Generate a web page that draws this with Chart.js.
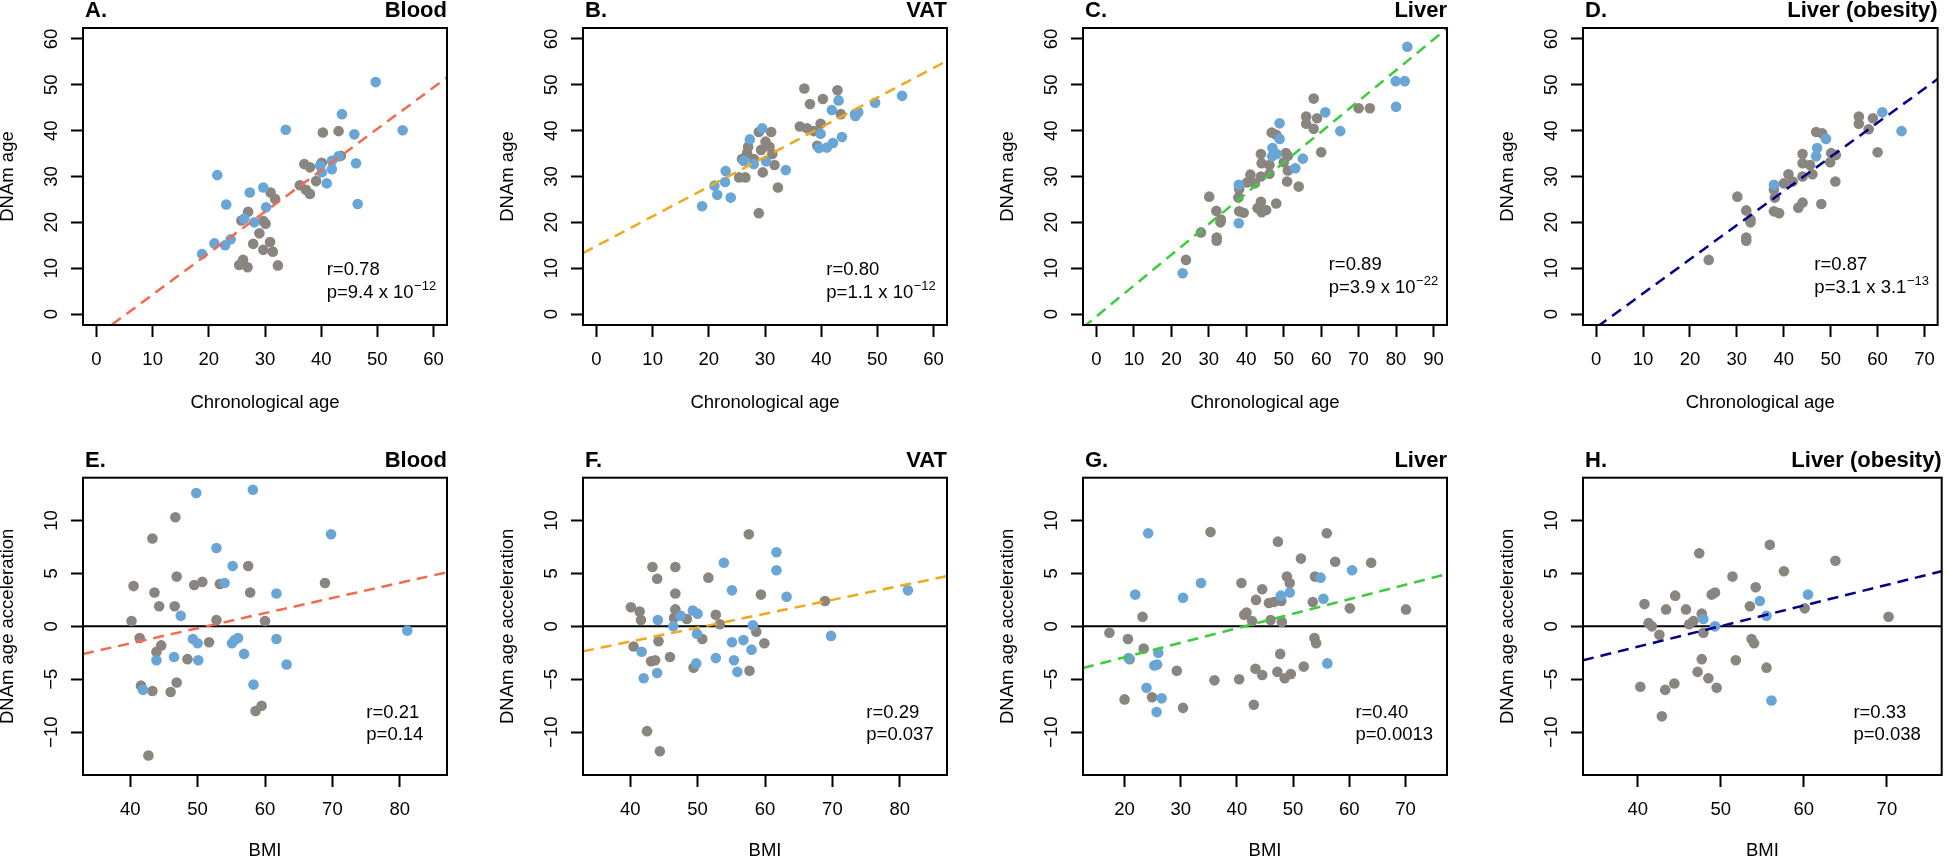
<!DOCTYPE html>
<html>
<head>
<meta charset="utf-8">
<script src="https://cdn.jsdelivr.net/npm/chart.js@4.4.1/dist/chart.umd.min.js"></script>
<style>
  body { margin: 0; background: #fff; width: 1947px; height: 859px; overflow: hidden; position: relative; }
  canvas { position: absolute; }
</style>
</head>
<body>
<script>
// ---- data: [x, y] pairs, blue and grey samples ----
const bloodAgeBlue = [[49.7,50.6],[43.7,43.6],[33.7,40.2],[54.5,40.1],[45.9,39.2],[46.2,32.9],[46.5,24.0],[21.5,30.3],[39.8,32.4],[40.1,30.9],[41.9,33.4],[41.9,31.6],[41.0,28.5],[43.1,34.4],[29.7,27.6],[27.3,26.5],[23.1,23.9],[30.2,23.3],[26.3,20.8],[28.1,20.0],[23.9,16.3],[21.0,15.4],[22.9,15.0],[18.8,13.1]];
const bloodAgeGray = [[40.3,39.6],[43.1,39.9],[43.5,34.5],[40.1,33.0],[37.0,32.7],[38.0,32.0],[39.1,29.0],[36.2,28.1],[37.3,27.1],[38.0,26.2],[31.0,26.5],[31.8,25.1],[27.0,22.3],[25.8,20.4],[29.7,20.3],[30.1,19.7],[29.0,17.6],[27.9,15.3],[30.9,15.7],[29.7,14.0],[31.4,13.6],[26.1,11.8],[25.4,10.7],[26.9,10.2],[32.3,10.6]];

const vatAgeBlue = [[54.4,47.6],[49.6,46.1],[43.1,46.6],[41.9,44.5],[46.0,43.6],[46.6,44.0],[46.1,43.2],[39.9,39.3],[43.7,38.6],[42.1,37.3],[39.6,36.2],[41.0,36.3],[29.5,40.5],[27.3,38.1],[26.2,33.4],[30.2,33.3],[28.0,32.7],[33.7,31.4],[23.0,31.2],[22.9,28.8],[21.0,28.0],[21.5,26.0],[23.9,25.4],[18.8,23.5]];
const vatAgeGray = [[37.0,49.2],[42.9,48.8],[38.0,45.8],[40.3,46.9],[43.5,43.6],[36.2,40.9],[37.5,40.5],[38.7,39.9],[39.9,41.5],[39.3,36.7],[28.9,39.7],[31.1,39.7],[30.1,37.6],[30.8,36.5],[29.3,35.8],[31.3,34.9],[27.0,36.5],[26.8,35.1],[25.9,33.8],[28.0,33.8],[31.7,32.5],[29.6,30.9],[25.4,29.8],[26.5,29.8],[32.3,27.6],[28.9,22.0]];

const liverAgeBlue = [[83.0,58.3],[79.9,50.8],[82.3,50.8],[80.0,45.2],[61.1,44.0],[65.1,39.9],[48.9,41.6],[48.9,38.2],[47.0,36.2],[46.9,34.4],[48.1,34.9],[55.1,33.9],[53.1,31.8],[38.0,28.2],[38.0,19.8],[23.0,8.9]];
const liverAgeGray = [[58.0,47.0],[56.0,43.1],[58.9,42.7],[56.0,41.5],[58.0,40.4],[70.0,44.9],[73.0,44.9],[60.0,35.3],[46.8,39.6],[48.0,39.1],[43.9,34.9],[44.1,32.9],[46.2,32.5],[50.6,35.1],[51.1,34.5],[50.0,33.1],[51.1,31.3],[50.9,28.9],[54.0,27.8],[41.1,30.4],[40.2,28.7],[42.3,28.5],[43.9,30.0],[46.2,30.6],[38.1,27.2],[37.9,25.4],[30.1,25.6],[32.0,22.5],[33.2,20.6],[33.1,20.0],[38.1,22.4],[39.3,22.1],[43.9,24.5],[43.0,23.1],[44.1,22.2],[45.3,22.7],[48.0,24.1],[27.9,17.8],[32.1,16.7],[32.1,16.0],[23.9,11.8]];

const obeseAgeBlue = [[61.0,44.0],[65.1,39.9],[49.0,38.2],[47.1,36.2],[46.9,34.4],[37.9,28.2]];
const obeseAgeGray = [[56.0,43.1],[59.0,42.7],[56.0,41.5],[58.1,40.3],[60.0,35.3],[46.9,39.7],[48.2,39.4],[50.1,35.1],[51.1,34.7],[49.9,33.1],[51.0,28.9],[48.0,24.0],[44.0,34.9],[44.0,32.9],[45.6,32.5],[46.1,30.5],[44.0,30.0],[41.0,30.5],[40.0,28.5],[41.9,28.9],[37.9,27.1],[38.1,25.4],[30.1,25.6],[32.0,22.6],[32.9,20.0],[32.9,20.6],[37.9,22.4],[39.0,22.0],[44.0,24.3],[43.1,23.2],[32.0,16.7],[32.0,16.0],[24.0,11.8]];

const bloodBmiBlue = [[49.8,12.6],[58.2,12.9],[69.8,8.7],[52.8,7.4],[55.2,5.7],[54.0,4.1],[61.7,3.1],[47.5,1.0],[49.3,-1.2],[50.0,-1.6],[55.1,-1.6],[55.5,-1.3],[56.0,-1.1],[61.7,-1.2],[46.5,-2.9],[50.1,-3.2],[43.9,-3.2],[56.9,-2.6],[63.2,-3.6],[58.3,-5.5],[41.9,-6.0],[81.1,-0.4]];
const bloodBmiGray = [[46.7,10.3],[43.3,8.3],[57.5,5.7],[46.9,4.7],[40.5,3.8],[49.5,3.9],[50.7,4.2],[53.3,4.0],[57.8,3.2],[68.9,4.1],[43.6,3.2],[44.3,1.9],[46.6,1.9],[40.2,0.5],[52.8,0.6],[60.0,0.5],[41.4,-1.1],[44.6,-1.8],[43.9,-2.4],[51.7,-1.5],[48.5,-3.1],[46.9,-5.3],[41.6,-5.6],[43.3,-6.1],[46.0,-6.2],[58.6,-8.0],[59.5,-7.5],[42.7,-12.2]];

const vatBmiBlue = [[61.7,7.0],[61.7,5.3],[53.9,6.0],[55.1,3.4],[63.2,2.8],[81.2,3.4],[44.1,0.6],[46.4,0.0],[47.5,1.0],[49.3,1.5],[50.0,1.2],[49.9,-0.7],[49.8,-3.5],[52.7,-3.0],[55.1,-1.5],[56.8,-1.3],[58.2,0.1],[58.0,-2.2],[55.4,-3.2],[55.9,-4.3],[69.8,-0.9],[41.7,-2.4],[42.0,-4.9],[44.0,-4.4]];
const vatBmiGray = [[57.6,8.7],[43.3,5.6],[46.7,5.6],[44.0,4.5],[51.6,4.6],[46.7,3.1],[59.4,3.0],[68.9,2.4],[40.1,1.8],[41.4,1.4],[41.6,0.6],[46.7,1.6],[46.5,0.8],[48.4,0.7],[52.7,1.1],[53.3,0.2],[58.7,-0.5],[59.9,-1.6],[50.7,-1.2],[44.2,-1.4],[40.5,-1.9],[43.7,-3.2],[43.1,-3.3],[45.9,-2.9],[49.4,-3.9],[57.7,-4.2],[42.5,-9.9],[44.4,-11.8]];

const liverBmiBlue = [[24.2,8.8],[21.9,3.0],[33.6,4.1],[30.4,2.7],[60.5,5.3],[47.8,2.9],[49.4,3.2],[54.9,4.6],[55.4,2.6],[56.1,-3.5],[20.7,-3.0],[26.0,-2.5],[25.3,-3.7],[25.8,-3.6],[23.9,-5.8],[26.6,-6.8],[25.7,-8.1]];
const liverBmiGray = [[35.3,8.9],[56.0,8.8],[47.3,8.0],[51.4,6.4],[57.5,6.1],[63.9,6.0],[40.8,4.1],[44.5,3.5],[48.9,4.7],[49.4,4.1],[53.9,4.7],[43.4,2.5],[45.7,2.2],[46.6,2.3],[47.9,2.4],[53.5,2.3],[60.1,1.7],[70.1,1.6],[23.2,0.9],[41.3,1.1],[41.7,1.3],[42.7,0.5],[46.0,0.6],[48.0,0.4],[17.3,-0.6],[20.6,-1.2],[23.4,-2.1],[20.9,-3.1],[53.8,-1.1],[54.1,-1.6],[47.7,-2.6],[51.9,-3.8],[29.3,-4.2],[36.0,-5.1],[40.4,-5.0],[43.3,-4.0],[44.5,-4.6],[47.2,-4.3],[48.5,-4.9],[49.6,-4.5],[20.0,-6.9],[24.9,-6.7],[30.4,-7.7],[43.0,-7.4]];

const obeseBmiBlue = [[54.7,2.4],[60.5,3.0],[55.5,1.0],[47.9,0.7],[49.3,0.0],[56.1,-7.0]];
const obeseBmiGray = [[47.4,6.9],[55.9,7.7],[63.8,6.2],[57.6,5.2],[51.4,4.7],[54.2,3.7],[44.5,2.9],[48.9,3.0],[49.3,3.2],[40.8,2.1],[43.4,1.6],[45.8,1.6],[53.5,1.9],[60.1,1.7],[70.2,0.9],[47.7,1.2],[41.3,0.3],[41.7,0.0],[46.2,0.2],[46.7,0.5],[42.6,-0.8],[47.9,-0.6],[53.7,-1.2],[54.0,-1.6],[47.7,-3.1],[51.8,-3.2],[55.5,-3.9],[47.2,-4.3],[48.5,-4.9],[49.5,-5.8],[40.3,-5.7],[43.3,-6.0],[44.4,-5.4],[42.9,-8.5]];

// regression lines (intercept, slope), panels A..H
const fitIntercepts = [-4.81, 14.84, -0.50, -2.97, -7.33, -6.70, -5.66, -9.71];
const fitSlopes = [0.904, 0.6475, 0.671, 0.745, 0.143, 0.1315, 0.137, 0.1947];

// tick labels
const ageTicks60 = [0, 10, 20, 30, 40, 50, 60];
const ageTicks90 = [0, 10, 20, 30, 40, 50, 60, 70, 80, 90];
const ageTicks70 = [0, 10, 20, 30, 40, 50, 60, 70];
const bmiTicks80 = [40, 50, 60, 70, 80];
const bmiTicksLiver = [20, 30, 40, 50, 60, 70];
const bmiTicks70 = [40, 50, 60, 70];
const dnamTicks = [0, 10, 20, 30, 40, 50, 60];
const accelTicks = [-10, -5, 0, 5, 10];

const letters = ['A.', 'B.', 'C.', 'D.', 'E.', 'F.', 'G.', 'H.'];
const tissues = ['Blood', 'VAT', 'Liver', 'Liver (obesity)'];
const rLabels = ['r=0.78', 'r=0.80', 'r=0.89', 'r=0.87', 'r=0.21', 'r=0.29', 'r=0.40', 'r=0.33'];
const pLabels = ['p=9.4 x 10', 'p=1.1 x 10', 'p=3.9 x 10', 'p=3.1 x 3.1', 'p=0.14', 'p=0.037', 'p=0.0013', 'p=0.038'];
const pExponents = ['\u221212', '\u221212', '\u221222', '\u221213', '', '', '', ''];

const lineColors = ['#f26b4f', '#f0a81c', '#3dcc3d', '#00008b'];
const BLUE = '#6aa6d5';
const GRAY = '#8a867f';
const FONT = '"Liberation Sans", Arial, Helvetica, sans-serif';
const FS = 18.5;

const panels = [
  { blue: bloodAgeBlue, gray: bloodAgeGray, xlim: [-2.4, 62.4], xt: ageTicks60 },
  { blue: vatAgeBlue, gray: vatAgeGray, xlim: [-2.4, 62.4], xt: ageTicks60 },
  { blue: liverAgeBlue, gray: liverAgeGray, xlim: [-3.6, 93.6], xt: ageTicks90 },
  { blue: obeseAgeBlue, gray: obeseAgeGray, xlim: [-2.8, 72.8], xt: ageTicks70 },
  { blue: bloodBmiBlue, gray: bloodBmiGray, xlim: [33, 87], xt: bmiTicks80 },
  { blue: vatBmiBlue, gray: vatBmiGray, xlim: [33, 87], xt: bmiTicks80 },
  { blue: liverBmiBlue, gray: liverBmiGray, xlim: [12.6, 77.4], xt: bmiTicksLiver },
  { blue: obeseBmiBlue, gray: obeseBmiGray, xlim: [33.4, 76.6], xt: bmiTicks70 }
];
// annotation placement: offset of text left from plot right, r baseline above plot bottom
const annLeft = [120.3, 120.7, 118.3, 123.3, 80.7, 80.7, 91.6, 88.3];
const annBottom = [50, 50, 55, 55, 56.7, 56.7, 56.7, 56.7];

const fmt = v => (v < 0 ? '\u2212' + Math.abs(v) : String(v));

const panelText = {
  id: 'panelText',
  afterDraw(chart) {
    const i = chart.options.plugins.panelText.idx;
    const top = i < 4;
    const { ctx, chartArea: a } = chart;
    const ys = chart.scales.y;
    ctx.save();
    ctx.strokeStyle = '#000';
    ctx.lineWidth = 2;
    ctx.strokeRect(a.left, a.top, a.right - a.left, a.bottom - a.top);

    ctx.fillStyle = '#000';
    ctx.font = FS + 'px ' + FONT;
    ctx.textAlign = 'center';
    ctx.textBaseline = 'middle';
    (top ? dnamTicks : accelTicks).forEach(v => {
      ctx.save();
      ctx.translate(a.left - 31.5, ys.getPixelForValue(v));
      ctx.rotate(-Math.PI / 2);
      ctx.fillText(fmt(v), 0, 0);
      ctx.restore();
    });

    ctx.textBaseline = 'alphabetic';
    ctx.font = 'bold 22px ' + FONT;
    ctx.textAlign = 'left';
    ctx.fillText(letters[i], a.left + 2, a.top - 11);
    ctx.textAlign = 'right';
    ctx.fillText(tissues[i % 4], a.right, a.top - 11);

    ctx.textAlign = 'left';
    ctx.font = FS + 'px ' + FONT;
    const x0 = a.right - annLeft[i];
    const yr = a.bottom - annBottom[i];
    const yp = yr + (top ? 23 : 21.7);
    ctx.fillText(rLabels[i], x0, yr);
    ctx.fillText(pLabels[i], x0, yp);
    if (pExponents[i]) {
      const w = ctx.measureText(pLabels[i]).width;
      ctx.font = '13px ' + FONT;
      ctx.fillText(pExponents[i], x0 + w + 0.5, yp - 8);
    }
    ctx.restore();
  }
};

panels.forEach((p, i) => {
  const col = i % 4, top = i < 4;
  const w = col < 3 ? 500 : 447;
  const h = top ? 430 : 450;
  const cv = document.createElement('canvas');
  cv.width = w; cv.height = h;
  cv.style.left = (col * 500) + 'px';
  cv.style.top = (top ? 0 : 430) + 'px';
  cv.style.width = w + 'px'; cv.style.height = h + 'px';
  document.body.appendChild(cv);

  const a = fitIntercepts[i], b = fitSlopes[i];
  const datasets = [
    {
      data: p.xlim.map(x => ({ x, y: a + b * x })),
      showLine: true, borderColor: lineColors[col], borderWidth: 2.5,
      borderDash: [11, 7], pointRadius: 0, order: 0
    },
    {
      data: p.blue.map(([x, y]) => ({ x, y })),
      backgroundColor: BLUE, borderWidth: 0, pointRadius: 5.3, order: 1
    },
    {
      data: p.gray.map(([x, y]) => ({ x, y })),
      backgroundColor: GRAY, borderWidth: 0, pointRadius: 5.3, order: 2
    }
  ];
  if (!top) {
    datasets.push({
      data: p.xlim.map(x => ({ x, y: 0 })),
      showLine: true, borderColor: '#000', borderWidth: 2, pointRadius: 0, order: 3
    });
  }

  const tickFont = { family: FONT, size: FS };
  new Chart(cv.getContext('2d'), {
    type: 'scatter',
    data: { datasets },
    plugins: [panelText],
    options: {
      responsive: false,
      animation: false,
      events: [],
      layout: { padding: { left: 0, top: top ? 28 : 47.7, right: w - (col < 3 ? 447 : 445), bottom: 0 } },
      plugins: {
        legend: { display: false },
        tooltip: { enabled: false },
        panelText: { idx: i }
      },
      scales: {
        x: {
          type: 'linear', min: p.xlim[0], max: p.xlim[1],
          afterBuildTicks: s => { s.ticks = p.xt.map(v => ({ value: v })); },
          afterFit: s => { s.height = 105; },
          ticks: { font: tickFont, color: '#000', padding: 12, autoSkip: false, maxRotation: 0, callback: v => fmt(v) },
          grid: { drawOnChartArea: false, drawTicks: true, tickLength: 12, tickWidth: 2, tickColor: '#000' },
          border: { display: false },
          title: {
            display: true, text: top ? 'Chronological age' : 'BMI', color: '#000',
            font: { family: FONT, size: FS }, padding: { top: 0, bottom: top ? 16 : 17.5 }
          }
        },
        y: {
          type: 'linear', min: top ? -2.4 : -14.04, max: top ? 62.4 : 14.04,
          afterBuildTicks: s => { s.ticks = (top ? dnamTicks : accelTicks).map(v => ({ value: v })); },
          afterFit: s => { s.width = 83; },
          ticks: { display: false },
          grid: { drawOnChartArea: false, drawTicks: true, tickLength: 12, tickWidth: 2, tickColor: '#000' },
          border: { display: false },
          title: {
            display: true, text: top ? 'DNAm age' : 'DNAm age acceleration', color: '#000',
            font: { family: FONT, size: FS, lineHeight: 0.85 }, padding: { top: 0, bottom: 0 }
          }
        }
      }
    }
  });
});
</script>
</body>
</html>
